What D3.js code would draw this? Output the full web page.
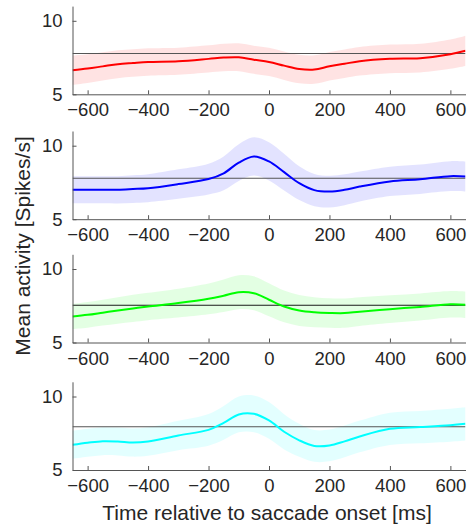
<!DOCTYPE html>
<html>
<head>
<meta charset="utf-8">
<script src="https://cdn.jsdelivr.net/npm/d3@7"></script>
<style>
  html, body { margin: 0; padding: 0; background: #fff; }
  svg { display: block; }
  text { font-family: "Liberation Sans", Arial, Helvetica, sans-serif; fill: #262626; }
</style>
</head>
<body>
<svg id="chart" width="467" height="524"></svg>
<script>
// ---- data ----
const timeMs = [-650,-600,-550,-500,-450,-400,-300,-200,-150,-100,-50,0,50,100,150,200,250,300,400,500,600,650];

const redMean  = [6.64,6.75,6.90,7.05,7.13,7.20,7.25,7.41,7.50,7.52,7.35,7.20,6.95,6.72,6.68,6.91,7.08,7.25,7.41,7.46,7.73,7.96];
const redSem   = [1.00,0.98,0.96,0.95,0.94,0.93,0.92,0.92,0.94,0.95,0.96,0.96,0.97,0.97,0.97,0.97,0.97,0.97,0.97,0.98,1.00,1.03];

const blueMean = [7.00,7.00,7.00,7.00,7.05,7.11,7.39,7.73,8.12,8.85,9.27,8.93,8.20,7.45,6.98,6.88,7.00,7.22,7.57,7.72,7.93,7.90];
const blueSem  = [0.92,0.92,0.92,0.93,0.94,0.95,1.00,1.05,1.15,1.25,1.30,1.30,1.25,1.15,1.10,1.08,1.05,1.02,1.00,1.00,1.02,1.02];

const greenMean = [6.77,6.88,7.03,7.18,7.32,7.45,7.68,7.97,8.18,8.42,8.35,7.91,7.45,7.18,7.06,7.01,7.00,7.10,7.27,7.42,7.60,7.57];
const greenSem  = [0.85,0.87,0.88,0.90,0.92,0.93,0.98,1.05,1.10,1.15,1.15,1.12,1.08,1.05,1.02,1.00,1.00,0.98,0.95,0.92,0.90,0.90];

const cyanMean = [6.71,6.85,6.96,6.94,6.87,6.94,7.35,7.73,8.20,8.78,8.82,8.37,7.60,7.02,6.64,6.67,6.95,7.28,7.80,7.92,8.05,8.14];
const cyanSem  = [0.95,0.95,0.95,0.95,0.96,0.97,1.00,1.08,1.15,1.22,1.25,1.25,1.20,1.12,1.08,1.08,1.08,1.08,1.10,1.10,1.12,1.13];

const baselines = [7.78, 7.79, 7.53, 7.94];
const seriesColors = ["#ff0000", "#0000ff", "#00ff00", "#00ffff"];
const baselineColors = ["#555555", "#555555", "#1a1a1a", "#555555"];

const xTicks = [-600,-400,-200,0,200,400,600];
const yTicks = [5, 10];
const xDomain = [-650, 650];
const yDomain = [5, 11];

const xLabel = "Time relative to saccade onset [ms]";
const yLabel = "Mean activity [Spikes/s]";

// ---- layout ----
const panels = [
  {mean: redMean, sem: redSem},
  {mean: blueMean, sem: blueSem},
  {mean: greenMean, sem: greenSem},
  {mean: cyanMean, sem: cyanSem}
];
const panelBottoms = [94.3, 219.2, 342.5, 470];
const panelHeight = 88.2;
const left = 72.5, right = 465.5;

const svg = d3.select("#chart");
const x = d3.scaleLinear().domain(xDomain).range([left, right]);
const fmt = d3.format("");

panels.forEach((p, i) => {
  const bottom = panelBottoms[i];
  const y = d3.scaleLinear().domain(yDomain).range([bottom, bottom - panelHeight]);
  const g = svg.append("g");

  const clipId = "clip" + i;
  svg.append("clipPath").attr("id", clipId)
    .append("rect").attr("x", left).attr("y", bottom - panelHeight)
    .attr("width", right - left).attr("height", panelHeight);

  const pts = timeMs.map((t, k) => ({t, m: p.mean[k], s: p.sem[k]}));
  const area = d3.area().x(d => x(d.t)).y0(d => y(d.m - d.s)).y1(d => y(d.m + d.s))
    .curve(d3.curveCatmullRom.alpha(0.5));
  const line = d3.line().x(d => x(d.t)).y(d => y(d.m)).curve(d3.curveCatmullRom.alpha(0.5));

  const plot = g.append("g").attr("clip-path", `url(#${clipId})`);
  plot.append("path").datum(pts).attr("d", area)
    .attr("fill", seriesColors[i]).attr("fill-opacity", 0.11).attr("stroke", "none");
  plot.append("line")
    .attr("x1", left).attr("x2", right)
    .attr("y1", y(baselines[i])).attr("y2", y(baselines[i]))
    .attr("stroke", baselineColors[i]).attr("stroke-width", 1.1);
  plot.append("path").datum(pts).attr("d", line)
    .attr("fill", "none").attr("stroke", seriesColors[i]).attr("stroke-width", 2);

  // x axis
  const xAxis = d3.axisBottom(x).tickValues(xTicks).tickSizeInner(-4).tickSizeOuter(0)
    .tickPadding(9).tickFormat(fmt);
  const xa = g.append("g").attr("transform", `translate(0,${bottom})`).call(xAxis);
  xa.select(".domain").attr("stroke", "#555").attr("stroke-width", 1);
  xa.selectAll(".tick line").attr("stroke", "#555");
  xa.selectAll("text").attr("font-size", 18.5).attr("fill", "#262626")
    .attr("font-family", '"Liberation Sans", Arial, sans-serif');

  // y axis
  const yAxis = d3.axisLeft(y).tickValues(yTicks).tickSizeInner(-4).tickSizeOuter(0)
    .tickPadding(10).tickFormat(fmt);
  const ya = g.append("g").attr("transform", `translate(${left},0)`).call(yAxis);
  ya.select(".domain").attr("stroke", "#555").attr("stroke-width", 1);
  ya.selectAll(".tick line").attr("stroke", "#555");
  ya.selectAll("text").attr("font-size", 18.5).attr("fill", "#262626")
    .attr("font-family", '"Liberation Sans", Arial, sans-serif');
});

svg.append("text")
  .attr("x", 267).attr("y", 519.5)
  .attr("text-anchor", "middle").attr("font-size", 21)
  .text(xLabel);

svg.append("text")
  .attr("transform", "translate(30,246) rotate(-90)")
  .attr("text-anchor", "middle").attr("font-size", 21)
  .text(yLabel);
</script>
</body>
</html>
